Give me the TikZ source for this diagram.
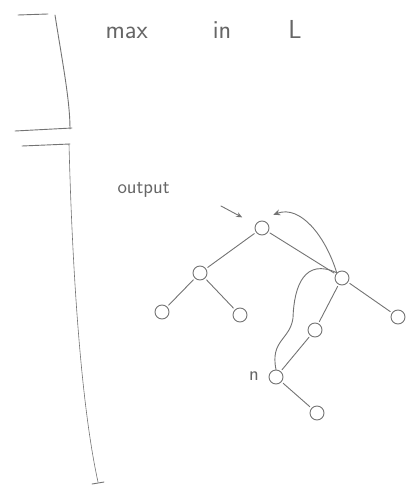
\documentclass[tikz,border=0pt]{standalone}
\usepackage{amsmath}
\usepackage{tikz}
\usetikzlibrary{arrows.meta}

\tikzset{
  pencil/.style={black!55,line width=0.9pt,line cap=round},
  tnode/.style={circle,draw=black!55,line width=0.9pt,minimum size=14pt,inner sep=0pt},
  tedge/.style={pencil,shorten <=2pt,shorten >=2pt},
  hand/.style={text=black!60,font=\sffamily\fontsize{#1}{#1}\selectfont},
}

\begin{document}
\begin{tikzpicture}[x=1pt,y=-1pt]
  \useasboundingbox (0,0) rectangle (410,486);
  % margin strokes on the left
  \draw[pencil] (18,15) -- (48,14);
  \draw[pencil] (55,15) .. controls (62,60) and (70,100) .. (70,129);
  \draw[pencil] (15,131) -- (72,128);
  \draw[pencil] (22,146) -- (70,144);
  \draw[pencil,line width=0.6pt] (69,144) .. controls (72,260) and (80,400) .. (98,482);
  \draw[pencil] (92,484) -- (104,482);
  \node[hand=26,anchor=west] (title) at (102,30) {max\hspace{2.5em}in\hspace{2.2em}L};
  % the tree
  \node[tnode] (root) at (262,228) {};
  \node[tnode] (lc)   at (200,273) {};
  \node[tnode] (ll)   at (162,312) {};
  \node[tnode] (lr)   at (240,315) {};
  \node[tnode] (rc)   at (342,278) {};
  \node[tnode] (rr)   at (398,317) {};
  \node[tnode] (rl)   at (315,330) {};
  \node[tnode] (n)    at (276,377) {};
  \node[tnode] (nc)   at (317,413) {};
  \node[hand=20] (nlab) at (254,376) {n};
  \foreach \a/\b in {root/lc,root/rc,lc/ll,lc/lr,rc/rl,rc/rr,rl/n,n/nc}
    \draw[tedge] (\a) -- (\b);
  \node[hand=20,anchor=west] (out) at (114,190) {output};
  \coordinate (outtail) at (221,206);
  \draw[pencil,-{Stealth[length=6pt,width=5pt]},shorten >=15pt] (outtail) -- (root);
  % max goes up, brace over the path
  \draw[pencil,-{Stealth[length=7pt,width=6pt]}] (rc.north west) .. controls (325,235) and (300,205) .. ([shift={(6,-8)}]root.north east);
  \coordinate (cusp) at (293,318);
  \draw[pencil] (n.north) .. controls (270,340) and (290,340) .. (cusp)
    .. controls (294,285) and (305,258) .. (rc.north west);
\end{tikzpicture}
\end{document}
